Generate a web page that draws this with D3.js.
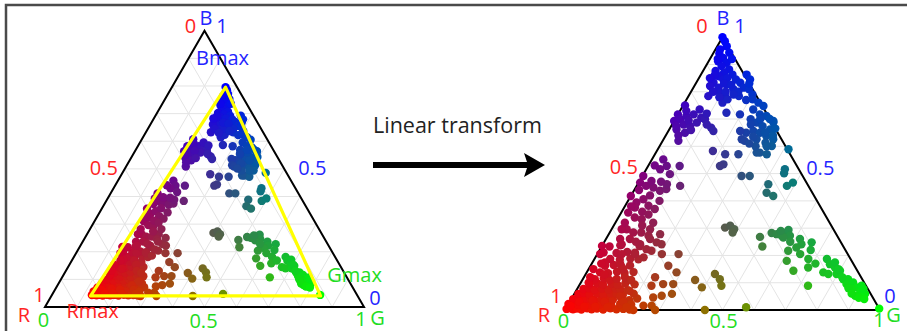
<!DOCTYPE html>
<html>
<head>
<meta charset="utf-8">
<script src="https://cdn.jsdelivr.net/npm/d3@7"></script>
<style>
  body { margin: 0; background: #fff; }
  svg { display: block; }
  text { font-family: "Open Sans", sans-serif; }
</style>
</head>
<body>
<div id="chart"></div>
<script>
// ============================================================================
// TERNARY RGB PLOTS - raw compositions (left) and after linear transform (right)
// ============================================================================

const blueApex = [
    [0, 1.0], [0.015, 0.985], [0.03, 0.967], [0.015, 0.955], [0.05, 0.943], [0.02, 0.94],
    [0.04, 0.924], [0.03, 0.912], [0.06, 0.906], [0.05, 0.894], [0.04, 0.876], [0.08, 0.882],
    [0.07, 0.87], [0.06, 0.857], [0.10, 0.863], [0.08, 0.845], [0.09, 0.85], [0.12, 0.845],
    [0.055, 0.833], [0.10, 0.827], [0.14, 0.833], [0.08, 0.815], [0.13, 0.809], [0.094, 0.796],
    [0.116, 0.784], [0.05, 0.821], [0.063, 0.784], [0.145, 0.863], [0.165, 0.845], [0.16, 0.815],
    [0.18, 0.809], [0.20, 0.79], [0.12, 0.76], [0.13, 0.772], [0.16, 0.784], [0.11, 0.80],
    [0.07, 0.80], [0.15, 0.80], [0.10, 0.78], [0.151, 0.723], [0.197, 0.717],
    [0.025, 0.92], [0.07, 0.92], [0.045, 0.86], [0.09, 0.83], [0.115, 0.825], [0.035, 0.85],
    [0.14, 0.79], [0.17, 0.83], [0.19, 0.77]
];
const blueArm = [
    [0.21, 0.772], [0.234, 0.76], [0.256, 0.748], [0.23, 0.735], [0.26, 0.717], [0.284, 0.711],
    [0.315, 0.693], [0.24, 0.699], [0.265, 0.687], [0.29, 0.674], [0.32, 0.662], [0.27, 0.656],
    [0.294, 0.65], [0.32, 0.638], [0.348, 0.626], [0.25, 0.65], [0.295, 0.626], [0.33, 0.613],
    [0.356, 0.601], [0.33, 0.577], [0.355, 0.571], [0.32, 0.577], [0.228, 0.656], [0.248, 0.626],
    [0.318, 0.687], [0.26, 0.62], [0.305, 0.6], [0.34, 0.64], [0.28, 0.635],
    [0.27, 0.70], [0.30, 0.70], [0.31, 0.65], [0.34, 0.60], [0.28, 0.61], [0.25, 0.68], [0.335, 0.665]
];
const purpleArm = [
    [0.006, 0.75], [0, 0.717], [0, 0.693], [0.016, 0.699], [0.03, 0.711], [0.05, 0.717],
    [0.08, 0.705], [0.036, 0.68], [0.06, 0.674], [0.023, 0.662], [0.056, 0.65], [0.06, 0.735],
    [0.095, 0.699], [0.13, 0.668], [0.143, 0.656], [0.075, 0.687], [0.05, 0.62],
    [0.02, 0.73], [0.045, 0.695], [0.07, 0.66], [0.04, 0.64], [0.11, 0.68], [0.09, 0.72], [0.015, 0.675]
];
const tealPoints = [
    [0.178, 0.583], [0.223, 0.571], [0.265, 0.571], [0.236, 0.534], [0.228, 0.528], [0.315, 0.491],
    [0.341, 0.491], [0.415, 0.461], [0.425, 0.43], [0.452, 0.418], [0.477, 0.455], [0.49, 0.467],
    [0.44, 0.516], [0.445, 0.501], [0.415, 0.589]
];
const magentaArm = [
    [0.036, 0.552], [0.059, 0.528], [0.044, 0.516], [0.10, 0.528], [0.138, 0.455], [0.003, 0.491],
    [0.005, 0.467], [0.03, 0.455], [0.056, 0.449], [0.083, 0.437], [0.10, 0.443], [0, 0.418],
    [0.03, 0.394], [0.046, 0.406], [0.074, 0.382], [0.10, 0.37], [0.022, 0.357], [0.052, 0.339],
    [0.048, 0.296], [0.075, 0.284], [0.045, 0.26], [0.076, 0.26], [0.10, 0.284], [0.118, 0.241],
    [0.147, 0.223], [0.167, 0.248], [0.163, 0.278], [0.122, 0.296], [0.034, 0.376], [0.093, 0.461],
    [0.038, 0.473], [0.077, 0.333], [0.129, 0.272], [0.032, 0.296], [0.084, 0.498], [0.10, 0.40],
    [0.02, 0.53], [0.07, 0.47], [0.015, 0.44], [0.06, 0.42], [0.02, 0.38], [0.065, 0.36],
    [0.09, 0.31], [0.03, 0.32], [0.06, 0.24], [0.10, 0.25], [0.14, 0.26], [0.09, 0.35], [0.12, 0.32]
];
const redCluster = [
    [0.003, 0.004], [0.014, 0.006], [0.024, 0.003], [0.035, 0.005], [0.051, 0.002], [0.067, 0.006],
    [0.083, 0.003], [0.099, 0.005], [0.12, 0.002], [0.141, 0.006], [0.162, 0.003], [0.183, 0.004], [0.204, 0.002],
    [0.0, 0.022], [0.015, 0.025], [0.031, 0.019], [0.047, 0.023], [0.063, 0.02], [0.079, 0.024],
    [0.1, 0.021], [0.116, 0.025], [0.137, 0.019], [0.164, 0.022], [0.185, 0.02],
    [0.006, 0.04], [0.022, 0.043], [0.043, 0.038], [0.059, 0.042], [0.075, 0.037], [0.096, 0.041],
    [0.112, 0.044], [0.133, 0.038], [0.16, 0.04], [0.186, 0.036], [0.208, 0.042],
    [0.013, 0.059], [0.029, 0.062], [0.05, 0.056], [0.071, 0.06], [0.093, 0.057], [0.114, 0.061],
    [0.135, 0.058], [0.156, 0.055], [0.188, 0.06],
    [0.02, 0.077], [0.036, 0.08], [0.057, 0.074], [0.078, 0.078], [0.1, 0.075], [0.121, 0.079],
    [0.137, 0.076], [0.163, 0.073],
    [0.031, 0.095], [0.053, 0.098], [0.074, 0.093], [0.1, 0.096], [0.121, 0.092], [0.143, 0.097], [0.174, 0.094],
    [0.038, 0.113], [0.065, 0.116], [0.086, 0.11], [0.107, 0.114], [0.139, 0.112],
    [0.042, 0.138], [0.069, 0.135], [0.095, 0.14], [0.121, 0.136], [0.148, 0.139],
    [0.046, 0.162], [0.072, 0.165], [0.099, 0.16], [0.125, 0.163],
    [0.05, 0.187], [0.082, 0.184], [0.113, 0.189], [0.14, 0.186],
    [0.017, 0.211], [0.059, 0.209], [0.091, 0.213], [0.117, 0.21],
    [0.0, 0.235], [0.025, 0.233], [0.057, 0.237], [0.12, 0.234],
    [0.009, 0.205], [0.04, 0.174], [0.078, 0.205], [0.12, 0.205], [0.153, 0.193], [0.166, 0.217],
    [0.01, 0.015], [0.03, 0.03], [0.055, 0.012], [0.07, 0.035], [0.09, 0.012], [0.11, 0.03],
    [0.13, 0.01], [0.15, 0.05], [0.17, 0.03], [0.20, 0.02], [0.025, 0.10], [0.06, 0.13],
    [0.09, 0.17], [0.11, 0.15], [0.13, 0.12], [0.155, 0.11], [0.17, 0.07], [0.03, 0.17],
    [0.015, 0.15], [0.02, 0.12]
];
const brownArm = [
    [0.186, 0.241], [0.258, 0.205], [0.247, 0.162], [0.285, 0.138], [0.226, 0.12], [0.23, 0.089],
    [0.264, 0.095], [0.296, 0.095], [0.31, 0.059], [0.281, 0.052], [0.257, 0.046], [0.267, 0.016],
    [0.286, 0.0], [0.241, 0.016], [0.217, 0.0], [0.19, 0.01], [0.205, 0.205]
];
const olivePoints = [
    [0.358, 0.11], [0.393, 0.083], [0.41, 0.132], [0.435, 0.113], [0.452, 0.089], [0.444, 0.0],
    [0.57, 0.01], [0.357, 0.302], [0.37, 0.309], [0.389, 0.296], [0.39, 0.284]
];
const greenArm = [
    [0.485, 0.268], [0.51, 0.233], [0.515, 0.282], [0.533, 0.278], [0.552, 0.272], [0.562, 0.284],
    [0.563, 0.293], [0.578, 0.272], [0.56, 0.266], [0.616, 0.26], [0.63, 0.241], [0.659, 0.248],
    [0.62, 0.229], [0.60, 0.217], [0.644, 0.205], [0.679, 0.187], [0.614, 0.18], [0.694, 0.156],
    [0.653, 0.144], [0.727, 0.089], [0.738, 0.187], [0.757, 0.168], [0.779, 0.156], [0.751, 0.138],
    [0.77, 0.132], [0.796, 0.132], [0.801, 0.144], [0.827, 0.113], [0.842, 0.113], [0.846, 0.095],
    [0.864, 0.101], [0.885, 0.083], [0.897, 0.089], [0.872, 0.077], [0.905, 0.065], [0.923, 0.059],
    [0.895, 0.052], [0.909, 0.077], [0.77, 0.174], [0.793, 0.15], [0.995, 0.005],
    [0.54, 0.29], [0.59, 0.25], [0.67, 0.22], [0.71, 0.17], [0.82, 0.12], [0.86, 0.08],
    [0.88, 0.06], [0.91, 0.045], [0.93, 0.04]
];

// Corners of the yellow triangle in the raw plot, as [R, G, B]
const rMax = [0.837, 0.123, 0.04];
const gMax = [0.116, 0.844, 0.04];
const bMax = [0.036, 0.168, 0.796];

const tickLabels = ['0', '0.5', '1'];
const COLORS = { red: '#ff2424', green: '#22dd22', blue: '#2424ff', grid: '#e4e4e4' };

const W = 907, H = 331;
const svg = d3.select('#chart').append('svg').attr('width', W).attr('height', H);

// Frame around the picture
svg.append('rect')
    .attr('x', 6).attr('y', 5).attr('width', W + 20).attr('height', H + 20)
    .attr('fill', 'none').attr('stroke', '#4a4a4a').attr('stroke-width', 2.5);

const allPoints = [].concat(redCluster, brownArm, magentaArm, purpleArm, blueApex, blueArm,
    tealPoints, olivePoints, greenArm).map(([g, b]) => {
        const r = Math.max(0, 1 - g - b);
        return { r, g, b };
    });

// raw composition = r * Rmax + g * Gmax + b * Bmax
function toRaw(p) {
    const mix = i => p.r * rMax[i] + p.g * gMax[i] + p.b * bMax[i];
    return { r: mix(0), g: mix(1), b: mix(2) };
}

const colorOf = p => d3.rgb(p.r * 255, p.g * 255, p.b * 255).toString();

function drawTernary(cfg) {
    const hScale = d3.scaleLinear().domain([0, 1]).range([cfg.x0, cfg.x1]);
    const top = cfg.base - (cfg.x1 - cfg.x0) * Math.sqrt(3) / 2;
    const vScale = d3.scaleLinear().domain([0, 1]).range([cfg.base, top]);
    const px = (g, b) => [hScale(g + b / 2), vScale(b)];

    const g = svg.append('g');

    // grid, every 0.1
    const steps = d3.range(1, 10).map(i => i / 10);
    const segs = [];
    steps.forEach(t => {
        segs.push([px(0, t), px(1 - t, t)]);
        segs.push([px(t, 0), px(t, 1 - t)]);
        segs.push([px(1 - t, 0), px(0, 1 - t)]);
    });
    g.selectAll('.grid').data(segs).join('line')
        .attr('x1', d => d[0][0]).attr('y1', d => d[0][1])
        .attr('x2', d => d[1][0]).attr('y2', d => d[1][1])
        .attr('stroke', COLORS.grid).attr('stroke-width', 1);

    const corners = { R: px(0, 0), G: px(1, 0), B: px(0, 1) };
    g.append('path')
        .attr('d', d3.line()([corners.R, corners.G, corners.B]) + 'Z')
        .attr('fill', 'none').attr('stroke', '#000').attr('stroke-width', 2)
        .attr('stroke-linejoin', 'miter');

    // points
    g.selectAll('.pt').data(cfg.points).join('circle')
        .attr('cx', d => px(d.pos.g, d.pos.b)[0])
        .attr('cy', d => px(d.pos.g, d.pos.b)[1])
        .attr('r', cfg.radius)
        .attr('fill', d => d.color);

    if (cfg.hull) {
        g.append('path')
            .attr('d', d3.line()(cfg.hull.map(c => px(c[1], c[2]))) + 'Z')
            .attr('fill', 'none').attr('stroke', '#ffff00').attr('stroke-width', 3.2)
            .attr('stroke-linejoin', 'round');
        cfg.hullLabels.forEach((l, i) => {
            const v = px(cfg.hull[i][1], cfg.hull[i][2]);
            g.append('text').attr('x', v[0] + l.dx).attr('y', v[1] + l.dy)
                .attr('text-anchor', 'middle').attr('fill', l.color)
                .style('font-size', '20px').text(l.text);
        });
    }

    const anchors = {
        R: corners.R, G: corners.G, B: corners.B,
        mL: px(0, 0.5), mR: px(0.5, 0.5), mB: px(0.5, 0)
    };
    cfg.labels.forEach(l => {
        const a = anchors[l.at];
        g.append('text').attr('x', a[0] + l.dx).attr('y', a[1] + l.dy)
            .attr('text-anchor', 'middle').attr('fill', l.color)
            .style('font-size', '20px').text(l.text);
    });
}

const rgbLabels = (o) => [
    { at: 'B', text: tickLabels[0], color: COLORS.red, dx: o.b0[0], dy: o.b0[1] },
    { at: 'B', text: 'B', color: COLORS.blue, dx: o.bB[0], dy: o.bB[1] },
    { at: 'B', text: tickLabels[2], color: COLORS.blue, dx: o.b1[0], dy: o.b1[1] },
    { at: 'mL', text: tickLabels[1], color: COLORS.red, dx: o.mL[0], dy: o.mL[1] },
    { at: 'mR', text: tickLabels[1], color: COLORS.blue, dx: o.mR[0], dy: o.mR[1] },
    { at: 'R', text: tickLabels[2], color: COLORS.red, dx: o.r1[0], dy: o.r1[1] },
    { at: 'R', text: 'R', color: COLORS.red, dx: o.rR[0], dy: o.rR[1] },
    { at: 'R', text: tickLabels[0], color: COLORS.green, dx: o.r0[0], dy: o.r0[1] },
    { at: 'mB', text: tickLabels[1], color: COLORS.green, dx: o.mB[0], dy: o.mB[1] },
    { at: 'G', text: tickLabels[2], color: COLORS.green, dx: o.g1[0], dy: o.g1[1] },
    { at: 'G', text: 'G', color: COLORS.green, dx: o.gG[0], dy: o.gG[1] },
    { at: 'G', text: tickLabels[0], color: COLORS.blue, dx: o.g0[0], dy: o.g0[1] }
];

// Left: raw data with the yellow Rmax-Gmax-Bmax triangle
drawTernary({
    x0: 45, x1: 364, base: 307, radius: 4.2,
    points: allPoints.map(p => ({ pos: toRaw(p), color: colorOf(p) })),
    hull: [rMax, gMax, bMax],
    hullLabels: [
        { text: 'Rmax', color: COLORS.red, dx: 2, dy: 22 },
        { text: 'Gmax', color: COLORS.green, dx: 34, dy: -14 },
        { text: 'Bmax', color: COLORS.blue, dx: -3, dy: -22 }
    ],
    labels: rgbLabels({
        b0: [-14, 2], bB: [1.5, -6], b1: [17.5, 2], mL: [-21, 6], mR: [28, 6],
        r1: [-6, -5], rR: [-21, 15], r0: [-1.5, 20], mB: [-1, 21],
        g1: [-3, 19], gG: [13.5, 18], g0: [11, -2]
    })
});

// Right: after the linear transform
drawTernary({
    x0: 565, x1: 880, base: 310, radius: 4.2,
    points: allPoints.map(p => ({ pos: p, color: colorOf(p) })),
    labels: rgbLabels({
        b0: [-20.5, -4], bB: [0.5, -12], b1: [17.5, -4], mL: [-20, 0], mR: [19, 1.5],
        r1: [-9, -7], rR: [-21, 12], r0: [-1.5, 18], mB: [1, 18],
        g1: [-1, 17], gG: [13.5, 12], g0: [10, -7]
    })
});

// Arrow between the two plots
svg.append('text')
    .attr('x', 373).attr('y', 133)
    .style('font-size', '21.5px').attr('fill', '#222')
    .text('Linear transform');
svg.append('line')
    .attr('x1', 373).attr('x2', 530).attr('y1', 165).attr('y2', 165)
    .attr('stroke', '#000').attr('stroke-width', 6);
svg.append('path')
    .attr('d', 'M545,165 L524,153 L528,165 L524,177 Z')
    .attr('fill', '#000');
</script>
</body>
</html>
